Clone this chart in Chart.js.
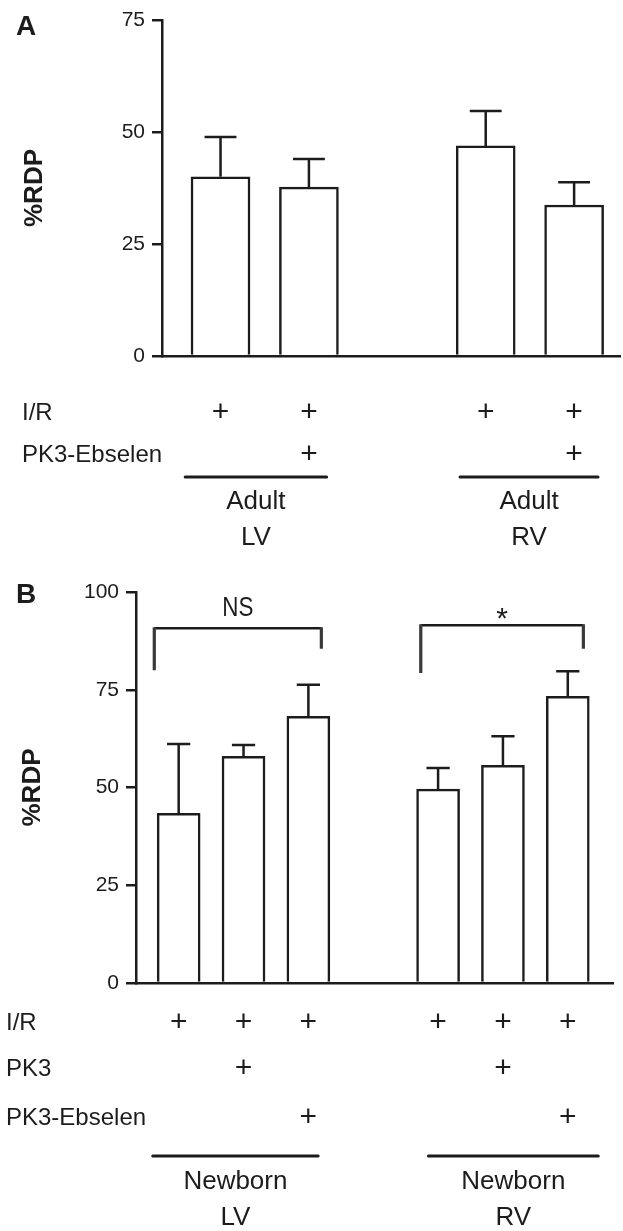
<!DOCTYPE html>
<html><head><meta charset="utf-8">
<script src="https://cdn.jsdelivr.net/npm/chart.js@4.4.1/dist/chart.umd.min.js"></script>
<style>
html,body{margin:0;padding:0;background:#fff;}
#wrap{position:relative;width:623px;height:1231px;overflow:hidden;}
canvas{position:absolute;left:0;}
</style></head><body>
<div id="wrap">
<canvas id="cA" width="623" height="560" style="top:0px"></canvas>
<canvas id="cB" width="623" height="671" style="top:560px"></canvas>
</div>
<script>
// ---------- Panel A data ----------
const categoriesA = ['Adult LV I/R', 'Adult LV I/R + PK3-Ebselen', '', 'Adult RV I/R', 'Adult RV I/R + PK3-Ebselen'];
const meansA = [40.0, 37.7, null, 46.9, 33.7];
const semA = [8.9, 6.3, null, 7.8, 5.1];
const yTicksA = [0, 25, 50, 75];
const rowNamesA = ['I/R', 'PK3-Ebselen'];
const rowIR_A = ['+', '+', '', '+', '+'];
const rowPK3Eb_A = ['', '+', '', '', '+'];
const groupLabelsA = [['Adult', 'LV'], ['Adult', 'RV']];
const groupMembersA = [[0, 1], [3, 4]];

// ---------- Panel B data ----------
const categoriesB = ['Newborn LV I/R', 'Newborn LV I/R + PK3', 'Newborn LV I/R + PK3-Ebselen', '', 'Newborn RV I/R', 'Newborn RV I/R + PK3', 'Newborn RV I/R + PK3-Ebselen'];
const meansB = [43.4, 58.0, 68.2, null, 49.6, 55.7, 73.3];
const semB = [17.7, 2.9, 8.1, null, 5.4, 7.4, 6.4];
const yTicksB = [0, 25, 50, 75, 100];
const rowNamesB = ['I/R', 'PK3', 'PK3-Ebselen'];
const rowIR_B = ['+', '+', '+', '', '+', '+', '+'];
const rowPK3_B = ['', '+', '', '', '', '+', ''];
const rowPK3Eb_B = ['', '', '+', '', '', '', '+'];
const groupLabelsB = [['Newborn', 'LV'], ['Newborn', 'RV']];
const groupMembersB = [[0, 1, 2], [4, 5, 6]];
const bracketLabelsB = ['NS', '*'];
const bracketMembersB = [[0, 2], [4, 6]];
const bracketTopB = [90.7, 91.5];
const bracketLeftEndB = [80, 79.3];
const bracketRightEndB = [85.5, 85.5];

// ---------- styling ----------
const INK = '#1c1c1c';
const FONT = '"Liberation Sans", Arial, Helvetica, sans-serif';

const panelA = {
  canvas: 'cA', letter: 'A', letterBase: 35,
  categories: categoriesA, means: meansA, sem: semA, yTicks: yTicksA,
  rows: [rowIR_A, rowPK3Eb_A], rowNames: rowNamesA,
  groups: groupMembersA, groupLabels: groupLabelsA,
  brackets: [],
  style: {
    barW: 59, padTop: 20, padRight: 3, yAxisW: 162, xAxisH: 204,
    xMin: -0.662, xMax: 4.519, rowX: 22, rowDy: [57, 99], lineDy: 121, groupDy: [146, 182],
    lineExt: [[-0.4, 0.2], [-0.29, 0.27]], titlePad: 19
  }
};
const panelB = {
  canvas: 'cB', letter: 'B', letterBase: 43,
  categories: categoriesB, means: meansB, sem: semB, yTicks: yTicksB,
  rows: [rowIR_B, rowPK3_B, rowPK3Eb_B], rowNames: rowNamesB,
  groups: groupMembersB, groupLabels: groupLabelsB,
  brackets: bracketMembersB.map((m, k) => ({from: m[0], to: m[1], text: bracketLabelsB[k],
    top: bracketTopB[k], l: bracketLeftEndB[k], r: bracketRightEndB[k]})),
  style: {
    barW: 43, padTop: 32, padRight: 10, yAxisW: 136, xAxisH: 248,
    xMin: -0.658, xMax: 6.697, rowX: 6, rowDy: [40, 86, 135], lineDy: 173, groupDy: [199, 235],
    lineExt: [[-0.4, 0.15], [-0.15, 0.47]], titlePad: 17,
    bracketExt: [[-0.376, 0.2], [-0.267, 0.24]]
  }
};

function overlay(p) {
  return {
    id: 'overlay' + p.letter,
    afterDatasetsDraw(chart) {
      const ctx = chart.ctx, xs = chart.scales.x, ys = chart.scales.y;
      const meta = chart.getDatasetMeta(0);
      ctx.save();
      ctx.strokeStyle = INK; ctx.lineWidth = 2.5; ctx.lineCap = 'butt';
      p.means.forEach((m, i) => {
        if (m === null) return;
        const el = meta.data[i];
        const yTop = ys.getPixelForValue(m + p.sem[i]);
        const half = el.width * 0.27;
        ctx.beginPath();
        ctx.moveTo(el.x, el.y); ctx.lineTo(el.x, yTop);
        ctx.moveTo(el.x - half, yTop); ctx.lineTo(el.x + half, yTop);
        ctx.stroke();
      });
      // significance brackets
      const band = Math.abs(xs.getPixelForValue(1) - xs.getPixelForValue(0));
      p.brackets.forEach((b, k) => {
        const ext = p.style.bracketExt[k];
        const xl = xs.getPixelForValue(b.from) + ext[0] * band;
        const xr = xs.getPixelForValue(b.to) + ext[1] * band;
        const yt = ys.getPixelForValue(b.top);
        ctx.strokeStyle = INK; ctx.lineWidth = 2.5;
        ctx.beginPath(); ctx.moveTo(xl, yt); ctx.lineTo(xr, yt); ctx.stroke();
        ctx.strokeStyle = '#3a3a3a'; ctx.lineWidth = 3.2;
        ctx.beginPath();
        ctx.moveTo(xl, yt - 1); ctx.lineTo(xl, ys.getPixelForValue(b.l));
        ctx.moveTo(xr, yt - 1); ctx.lineTo(xr, ys.getPixelForValue(b.r));
        ctx.stroke();
        ctx.fillStyle = INK; ctx.textAlign = 'center';
        const cx = (xl + xr) / 2;
        ctx.save();
        if (b.text === '*') {
          ctx.font = '30px ' + FONT; ctx.textBaseline = 'middle';
          ctx.translate(cx, yt - 6);
        } else {
          ctx.font = '28px ' + FONT; ctx.textBaseline = 'alphabetic';
          ctx.translate(cx, yt - 12);
          ctx.scale(0.8, 1);
        }
        ctx.fillText(b.text, 0, 0);
        ctx.restore();
      });
      ctx.restore();
    },
    afterDraw(chart) {
      const ctx = chart.ctx, xs = chart.scales.x;
      const base = chart.chartArea.bottom;
      const st = p.style;
      const band = Math.abs(xs.getPixelForValue(1) - xs.getPixelForValue(0));
      ctx.save();
      ctx.fillStyle = INK;
      // panel letter
      ctx.font = 'bold 28px ' + FONT; ctx.textAlign = 'left'; ctx.textBaseline = 'alphabetic';
      ctx.fillText(p.letter, 16, p.letterBase);
      // treatment rows
      ctx.textBaseline = 'middle';
      p.rows.forEach((row, r) => {
        const y = base + st.rowDy[r];
        ctx.font = '24px ' + FONT; ctx.textAlign = 'left';
        ctx.fillText(p.rowNames[r], st.rowX, y);
        ctx.font = '30px ' + FONT; ctx.textAlign = 'center';
        row.forEach((mark, i) => { if (mark) ctx.fillText(mark, xs.getPixelForValue(i), y); });
      });
      // group underline + labels
      p.groups.forEach((g, k) => {
        const x0 = xs.getPixelForValue(g[0]) + st.lineExt[k][0] * band;
        const x1 = xs.getPixelForValue(g[g.length - 1]) + st.lineExt[k][1] * band;
        const yl = base + st.lineDy;
        ctx.strokeStyle = INK; ctx.lineWidth = 3; ctx.lineCap = 'round';
        ctx.beginPath(); ctx.moveTo(x0, yl); ctx.lineTo(x1, yl); ctx.stroke();
        ctx.font = '26px ' + FONT; ctx.textAlign = 'center'; ctx.textBaseline = 'middle';
        p.groupLabels[k].forEach((t, j) => ctx.fillText(t, (x0 + x1) / 2, base + st.groupDy[j]));
      });
      ctx.restore();
    }
  };
}

function build(p) {
  const st = p.style;
  const data = p.means.map((v, i) => ({x: i, y: v}));
  const yMax = p.yTicks[p.yTicks.length - 1];
  return new Chart(document.getElementById(p.canvas), {
    type: 'bar',
    data: {
      labels: p.categories,
      datasets: [{
        data: data, backgroundColor: '#ffffff', borderColor: INK, borderWidth: 2.5,
        barThickness: st.barW, borderSkipped: 'bottom'
      }]
    },
    options: {
      responsive: false, animation: false, devicePixelRatio: 1,
      layout: {padding: {top: st.padTop, right: st.padRight, left: 0, bottom: 0}},
      plugins: {legend: {display: false}, tooltip: {enabled: false}, title: {display: false}},
      scales: {
        x: {
          type: 'linear', min: st.xMin, max: st.xMax, offset: false,
          grid: {display: false, offset: false}, ticks: {display: false},
          border: {display: true, color: INK, width: 2.5},
          afterFit: s => { s.height = st.xAxisH; }
        },
        y: {
          type: 'linear', min: 0, max: yMax,
          afterBuildTicks: s => { s.ticks = p.yTicks.map(v => ({value: v})); },
          grid: {drawOnChartArea: false, drawTicks: true, tickLength: 10, color: INK, lineWidth: 2.5},
          border: {display: true, color: INK, width: 2.5},
          ticks: {color: INK, font: {family: FONT, size: 21}, padding: 7},
          title: {display: true, text: '%RDP', color: INK,
                  font: {family: FONT, size: 26, weight: 'bold'}, padding: {top: st.titlePad, bottom: 0}},
          afterFit: s => { s.width = st.yAxisW; }
        }
      }
    },
    plugins: [overlay(p)]
  });
}

build(panelA);
build(panelB);
</script>
</body></html>
